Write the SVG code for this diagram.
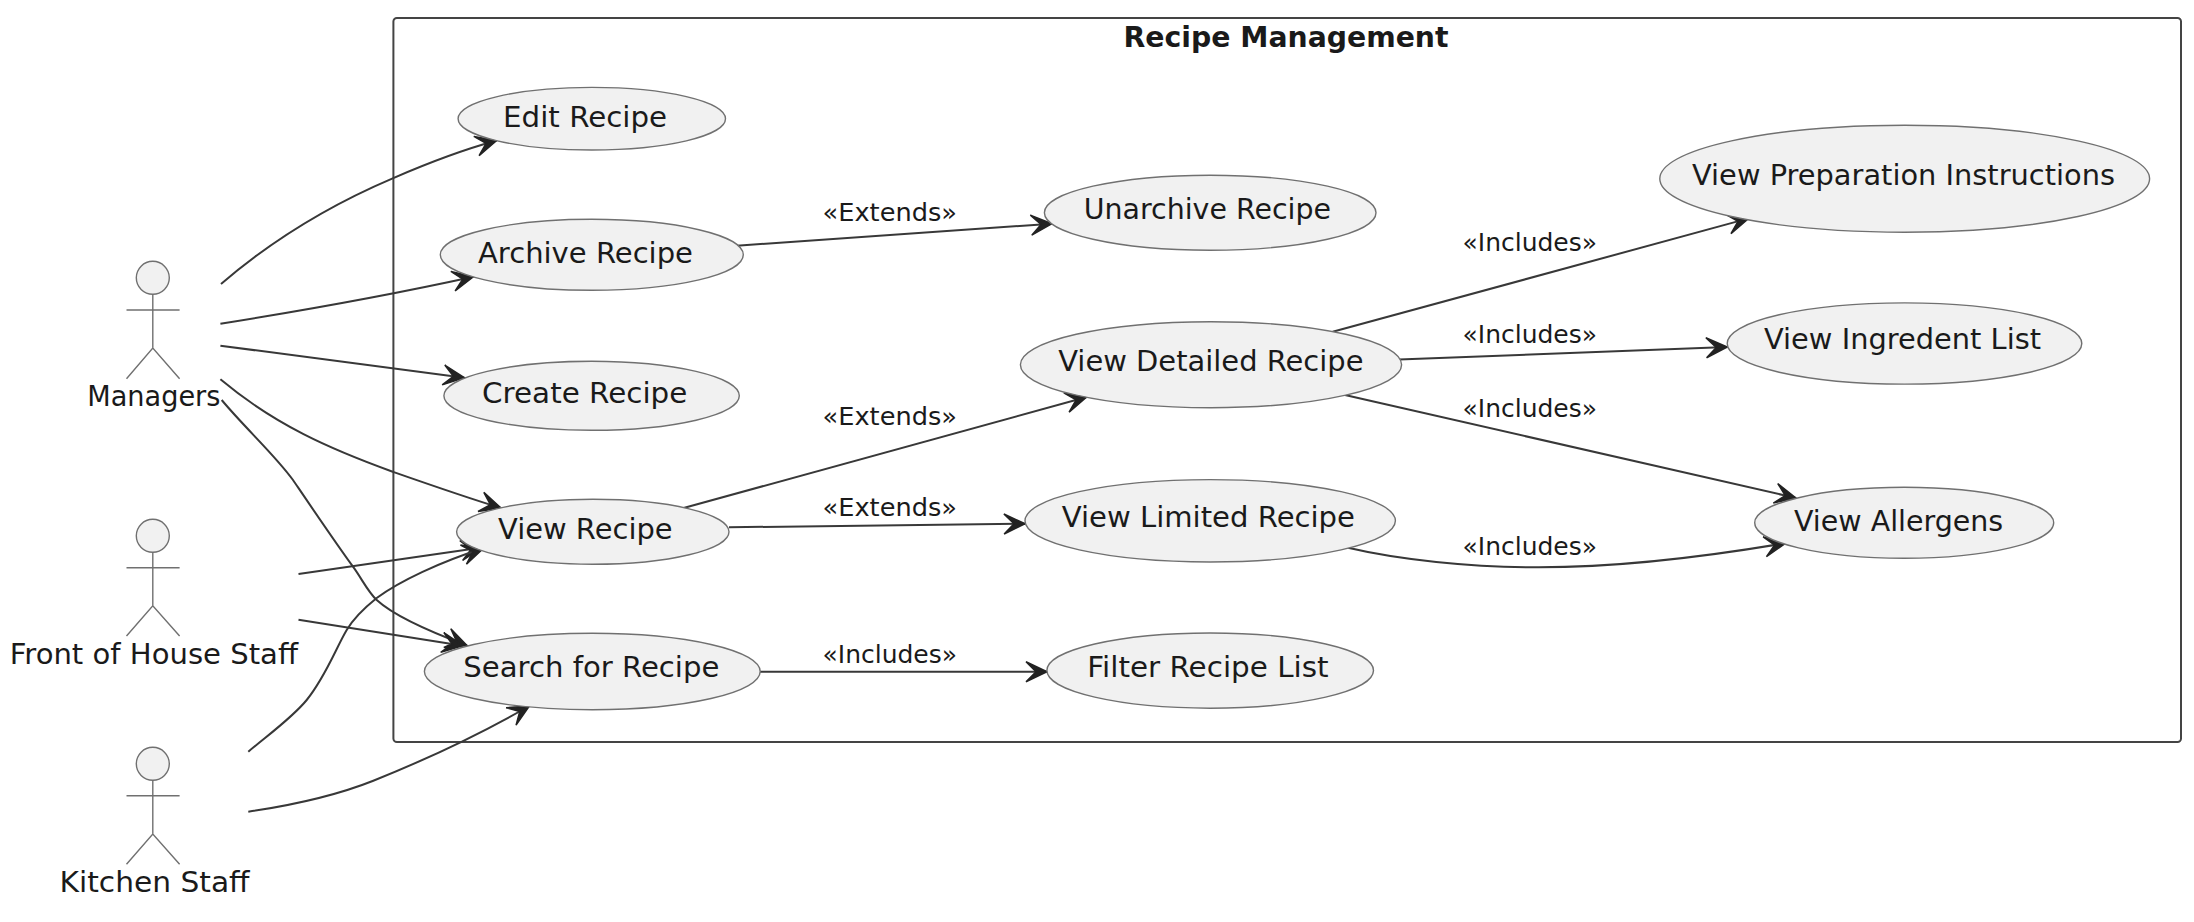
<svg xmlns="http://www.w3.org/2000/svg" width="2194" height="922" viewBox="0 0 2194 922">
<style>
text{font-family:"DejaVu Sans",sans-serif;fill:#1a1a1a}
.t{font-size:27.5px}
.l{font-size:24px}
.b{font-size:27.5px;font-weight:bold}
.u{fill:#F1F1F1;stroke:#707070;stroke-width:1.4}
.a{fill:#F1F1F1;stroke:#707070;stroke-width:1.4}
.s{fill:none;stroke:#707070;stroke-width:1.4}
.c{fill:none;stroke:#383838;stroke-width:2;marker-end:url(#ah)}
</style>
<defs>
<marker id="ah" markerUnits="userSpaceOnUse" markerWidth="26" markerHeight="26" viewBox="-23 -13 26 26" refX="0" refY="0" orient="auto"><path d="M0,0 L-21,-10 L-11,0 L-21,10 Z" fill="#222" stroke="#222" stroke-width="1.5"/></marker>
</defs>
<rect width="2194" height="922" fill="#fff"/>
<g id="frame">
<rect x="393.4" y="18" width="1787.6" height="724" rx="3.5" fill="none" stroke="#444" stroke-width="2"/>
<text class="b" x="1123.5" y="47" textLength="325" lengthAdjust="spacingAndGlyphs">Recipe Management</text>
</g>
<g id="connectors">
<path class="c" d="M221,284 C272,240 330,205 392.7,178.3 C428,163 462,150 496.7,140.5"/>
<path class="c" d="M220.4,323.7 C300,311 390,295 473.5,276.7"/>
<path class="c" d="M220.4,345.7 L464.3,377.7"/>
<path class="c" d="M220.4,379.3 C275,425 330,449 392.7,471.7 C425,483 465,497 501,508"/>
<path class="c" d="M221.7,400 C245,428 275,455 293,480 C310,505 335,542 353,566.7 C362,579 368,592 376.7,600 C392,614 420,628 467,645.5"/>
<path class="c" d="M298.5,574 L482,547.6"/>
<path class="c" d="M298.5,619.7 L463,645.7"/>
<path class="c" d="M248.3,751.7 C268,735 292,718 306.7,700 C326,676 336,648 346.7,630 C355,616 368,605 376.7,598 C400,581 440,562 483.5,548.3"/>
<path class="c" d="M248.3,811.7 C300,804 345,792 373.3,780.7 C410,766 470,740 529.3,706"/>
<path class="c" d="M736.7,245.7 L1052,223.7"/>
<path class="c" d="M682.7,508.3 L1086.7,397"/>
<path class="c" d="M729,527.3 L1025,523.7"/>
<path class="c" d="M759.7,671.8 L1047,671.8"/>
<path class="c" d="M1332.7,331.8 L1748.6,218.4"/>
<path class="c" d="M1399,359.6 L1727.2,347"/>
<path class="c" d="M1343.9,394.7 L1796,498"/>
<path class="c" d="M1348,547.8 C1400,560 1470,567 1531.8,567.3 C1620,568 1710,556 1785.5,543.2"/>
<text class="l" x="822.5" y="220.5" textLength="134.5" lengthAdjust="spacingAndGlyphs">«Extends»</text>
<text class="l" x="822.5" y="424.5" textLength="134.5" lengthAdjust="spacingAndGlyphs">«Extends»</text>
<text class="l" x="822.5" y="516.3" textLength="134.5" lengthAdjust="spacingAndGlyphs">«Extends»</text>
<text class="l" x="822.5" y="663" textLength="134.5" lengthAdjust="spacingAndGlyphs">«Includes»</text>
<text class="l" x="1462.5" y="250.8" textLength="134.5" lengthAdjust="spacingAndGlyphs">«Includes»</text>
<text class="l" x="1462.5" y="342.7" textLength="134.5" lengthAdjust="spacingAndGlyphs">«Includes»</text>
<text class="l" x="1462.5" y="416.5" textLength="134.5" lengthAdjust="spacingAndGlyphs">«Includes»</text>
<text class="l" x="1462.5" y="554.5" textLength="134.5" lengthAdjust="spacingAndGlyphs">«Includes»</text>
</g>
<g id="managers"><ellipse class="a" cx="152.8" cy="277.8" rx="16.5" ry="16.5"/><path class="s" d="M152.8,294.3 V348 M126.5,310 H179.6 M126.5,378.7 L152.8,348 L179.6,378.7"/><text class="t" x="87.3" y="405.7" textLength="133.1" lengthAdjust="spacingAndGlyphs">Managers</text></g>
<g id="front-of-house"><ellipse class="a" cx="152.8" cy="535.8" rx="16.5" ry="16.5"/><path class="s" d="M152.8,552.3 V605.7 M126.5,567.7 H179.6 M126.5,636 L152.8,605.7 L179.6,636"/><text class="t" x="9.7" y="664" textLength="288.3" lengthAdjust="spacingAndGlyphs">Front of House Staff</text></g>
<g id="kitchen"><ellipse class="a" cx="152.8" cy="763.8" rx="16.5" ry="16.5"/><path class="s" d="M152.8,780.3 V834 M126.5,795.7 H179.6 M126.5,864.3 L152.8,834 L179.6,864.3"/><text class="t" x="59.5" y="892.3" textLength="190" lengthAdjust="spacingAndGlyphs">Kitchen Staff</text></g>
<g id="edit"><ellipse class="u" cx="591.8" cy="118.7" rx="133.7" ry="31.3"/><text class="t" x="503.1" y="127" textLength="164" lengthAdjust="spacingAndGlyphs">Edit Recipe</text></g>
<g id="archive"><ellipse class="u" cx="591.8" cy="254.8" rx="151.5" ry="35.5"/><text class="t" x="478" y="263" textLength="215" lengthAdjust="spacingAndGlyphs">Archive Recipe</text></g>
<g id="create"><ellipse class="u" cx="591.6" cy="395.8" rx="147.7" ry="34.5"/><text class="t" x="482.1" y="402.7" textLength="205.2" lengthAdjust="spacingAndGlyphs">Create Recipe</text></g>
<g id="view"><ellipse class="u" cx="592.8" cy="531.8" rx="136.2" ry="32.5"/><text class="t" x="498" y="538.7" textLength="174.6" lengthAdjust="spacingAndGlyphs">View Recipe</text></g>
<g id="search"><ellipse class="u" cx="592.3" cy="671.5" rx="167.9" ry="38.2"/><text class="t" x="463.3" y="676.7" textLength="256.1" lengthAdjust="spacingAndGlyphs">Search for Recipe</text></g>
<g id="unarchive"><ellipse class="u" cx="1210.2" cy="212.7" rx="165.8" ry="37.5"/><text class="t" x="1083.7" y="219.2" textLength="247.3" lengthAdjust="spacingAndGlyphs">Unarchive Recipe</text></g>
<g id="detailed"><ellipse class="u" cx="1211" cy="364.7" rx="190.6" ry="43"/><text class="t" x="1058.2" y="370.6" textLength="305.3" lengthAdjust="spacingAndGlyphs">View Detailed Recipe</text></g>
<g id="limited"><ellipse class="u" cx="1210.2" cy="520.8" rx="185.2" ry="41.2"/><text class="t" x="1061.7" y="527" textLength="293.3" lengthAdjust="spacingAndGlyphs">View Limited Recipe</text></g>
<g id="filter"><ellipse class="u" cx="1210.2" cy="670.6" rx="163.3" ry="37.6"/><text class="t" x="1087.3" y="676.7" textLength="241.3" lengthAdjust="spacingAndGlyphs">Filter Recipe List</text></g>
<g id="prep"><ellipse class="u" cx="1904.7" cy="178.7" rx="244.9" ry="53.5"/><text class="t" x="1692" y="184.9" textLength="423" lengthAdjust="spacingAndGlyphs">View Preparation Instructions</text></g>
<g id="ingredient"><ellipse class="u" cx="1904.5" cy="343.5" rx="177.3" ry="40.6"/><text class="t" x="1764" y="349" textLength="277" lengthAdjust="spacingAndGlyphs">View Ingredent List</text></g>
<g id="allergens"><ellipse class="u" cx="1904.2" cy="522.8" rx="149.5" ry="35.5"/><text class="t" x="1794" y="530.6" textLength="209.2" lengthAdjust="spacingAndGlyphs">View Allergens</text></g>
</svg>
